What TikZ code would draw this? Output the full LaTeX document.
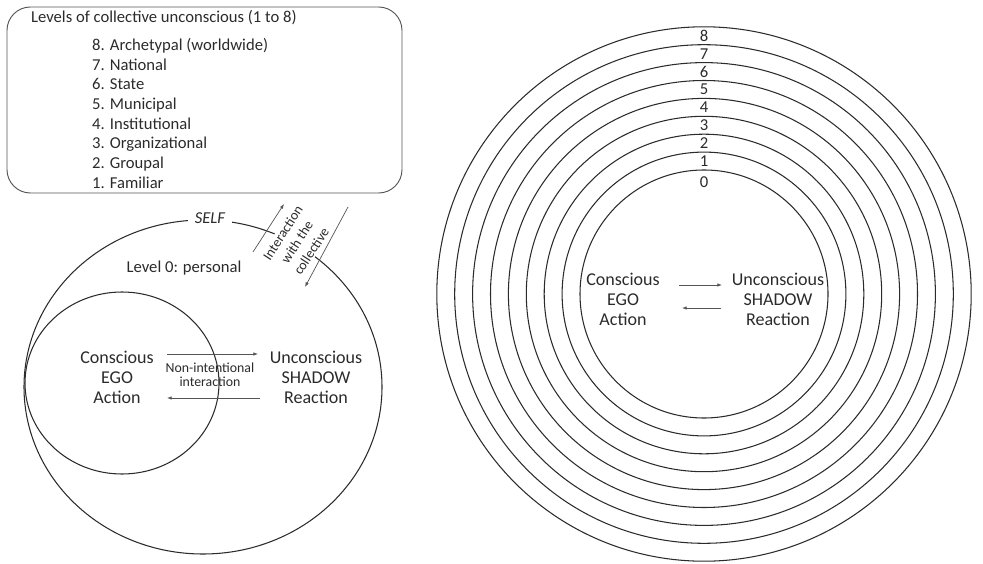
\documentclass[tikz,border=0pt]{standalone}
\usepackage{fontspec}
\setmainfont{Carlito}
\usetikzlibrary{arrows.meta}
\definecolor{ink}{HTML}{2B2B2B}
\definecolor{thin}{HTML}{555555}

\begin{document}
\begin{tikzpicture}[x=0.03cm,y=-0.03cm,
  ring/.style={draw=ink,line width=0.9pt},
  flow/.style={draw=thin,line width=0.6pt,-{Latex[length=4pt,width=3pt]}},
  big text/.style={font=\fontsize{15.4}{17.1}\selectfont,align=center,text=ink},
  list text/.style={font=\fontsize{14.2}{16.8}\selectfont,align=left,text=ink},
  small text/.style={font=\fontsize{11.8}{12}\selectfont,align=center,text=ink}]

  \useasboundingbox (0,0) rectangle (983,564);

  % box with the levels
  \node[draw=thin,line width=0.8pt,rounded corners=20pt,minimum width=395*0.03cm,
    minimum height=186*0.03cm] (levels) at (204.5,100) {};
  \node[list text,anchor=west] (title) at (27,18) {Levels of collective unconscious (1 to 8)};
  \node[list text,anchor=north west,inner sep=0pt] (list) at (92,38)
    {8. Archetypal (worldwide)\\7. National\\6. State\\5. Municipal\\4. Institutional\\
     3. Organizational\\2. Groupal\\1. Familiar};

  % personal level
  \draw[ring] (203,387) ellipse [x radius=179,y radius=167];
  \draw[ring] (122,383) ellipse [x radius=97,y radius=91];
  \node[list text,fill=white,inner xsep=6pt,font=\fontsize{14.2}{16.6}\selectfont\itshape] (self) at (210,218) {SELF};
  \node[list text] (personal) at (184,268) {Level 0: personal};
  \node[small text,fill=white,rotate=57,inner sep=1pt,
    font=\fontsize{11.8}{14.5}\selectfont] (collective) at (297,242) {Interaction\\with the\\collective};
  \coordinate (up1) at (253,252);
  \coordinate (up2) at (284,204);
  \coordinate (dn1) at (348,207);
  \coordinate (dn2) at (305,287);
  \draw[flow] (up1) -- (up2);
  \draw[flow] (dn1) -- (dn2);

  \node[big text] (ego) at (117,377) {Conscious\\EGO\\Action};
  \node[big text] (shadow) at (316,377) {Unconscious\\SHADOW\\Reaction};
  \node[small text] (nonint) at (210,375) {Non-intentional\\interaction};
  \coordinate (a1) at (167,354);
  \coordinate (a2) at (258,354);
  \coordinate (b1) at (260,398);
  \coordinate (b2) at (167,398);
  \draw[flow] (a1) -- (a2);
  \draw[flow] (b1) -- (b2);

  % collective levels
  \foreach \i in {0,...,8}
    \draw[ring] (704,294) circle [radius={124+17.9*\i}];
  \foreach \i in {1,...,8}
    \node[list text,inner sep=0pt] (lv\i) at (704,{179-17.9*\i}) {\i};
  \node[list text,inner sep=0pt] (lv0) at (704,182) {0};

  \node[big text] (ego2) at (623,299) {Conscious\\EGO\\Action};
  \node[big text] (shadow2) at (778,299) {Unconscious\\SHADOW\\Reaction};
  \coordinate (c1) at (679,285);
  \coordinate (c2) at (722,285);
  \coordinate (d1) at (721,308);
  \coordinate (d2) at (682,308);
  \draw[flow] (c1) -- (c2);
  \draw[flow] (d1) -- (d2);
\end{tikzpicture}
\end{document}
